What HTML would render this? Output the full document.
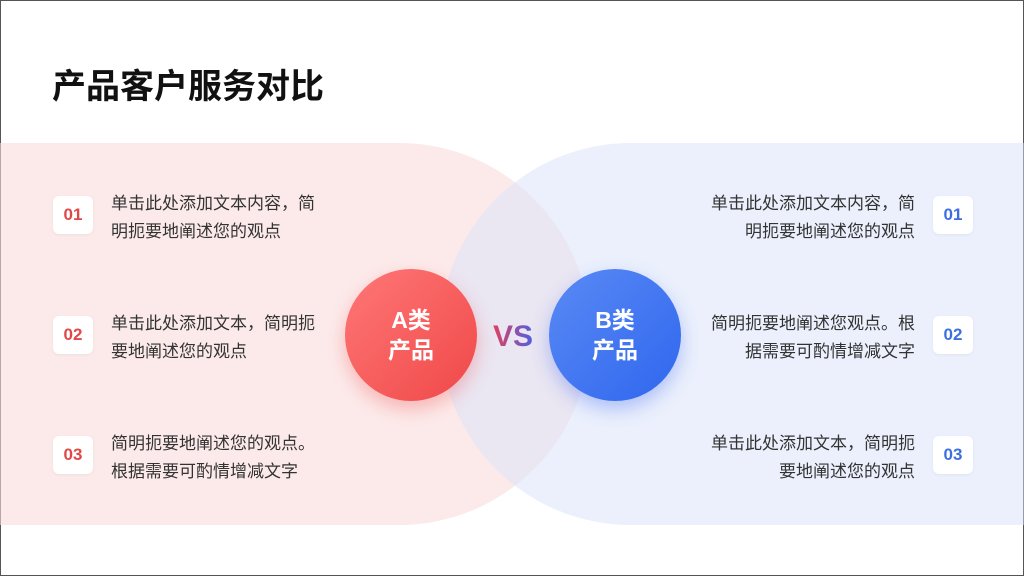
<!DOCTYPE html>
<html><head><meta charset="utf-8"><style>
body{margin:0;width:1024px;height:576px;overflow:hidden;background:#fff;font-family:"Liberation Sans","Noto Sans CJK SC",sans-serif;position:relative}
.abs{position:absolute}
.t{font-size:17px;line-height:28px;color:#333;white-space:nowrap}
.b{width:40px;height:38px;background:#fff;border-radius:6px;font-weight:bold;font-size:17px;text-align:center;line-height:38px;box-shadow:0 1px 3px rgba(0,0,0,.05)}
.r{color:#e04848}.bl{color:#3b6fe0}
.c{width:132px;height:132px;border-radius:50%;color:#fff;font-weight:bold;font-size:23px;line-height:30px;display:flex;align-items:center;justify-content:center;text-align:center}
</style></head><body>
<div class="abs" style="left:0;top:0;width:1022px;height:574px;border:1px solid #555"></div>
<div class="abs" style="left:52px;top:59px;font-size:34px;font-weight:bold;color:#111">产品客户服务对比</div>
<div class="abs" style="left:-200px;top:143px;width:790px;height:382px;border-radius:0 191px 191px 0;background:rgba(250,220,220,.6)"></div>
<div class="abs" style="left:440px;top:143px;width:800px;height:382px;border-radius:191px 0 0 191px;background:rgba(215,225,250,.5)"></div>
<div class="abs b r" style="left:53px;top:196px">01</div>
<div class="abs b r" style="left:53px;top:316px">02</div>
<div class="abs b r" style="left:53px;top:436px">03</div>
<div class="abs t" style="left:111px;top:190px">单击此处添加文本内容，简<br>明扼要地阐述您的观点</div>
<div class="abs t" style="left:111px;top:310px">单击此处添加文本，简明扼<br>要地阐述您的观点</div>
<div class="abs t" style="left:111px;top:430px">简明扼要地阐述您的观点。<br>根据需要可酌情增减文字</div>
<div class="abs b bl" style="left:933px;top:196px">01</div>
<div class="abs b bl" style="left:933px;top:316px">02</div>
<div class="abs b bl" style="left:933px;top:436px">03</div>
<div class="abs t" style="right:109px;top:190px;text-align:right">单击此处添加文本内容，简<br>明扼要地阐述您的观点</div>
<div class="abs t" style="right:109px;top:310px;text-align:right">简明扼要地阐述您观点。根<br>据需要可酌情增减文字</div>
<div class="abs t" style="right:109px;top:430px;text-align:right">单击此处添加文本，简明扼<br>要地阐述您的观点</div>
<div class="abs c" style="left:345px;top:269px;background:linear-gradient(135deg,#f77,#f04848);box-shadow:0 8px 18px rgba(240,80,80,.35)">A类<br>产品</div>
<div class="abs c" style="left:549px;top:269px;background:linear-gradient(135deg,#5a8af5,#2f66ee);box-shadow:0 8px 18px rgba(60,100,240,.35)">B类<br>产品</div>
<div class="abs" style="left:493px;top:320px;font-size:30px;font-weight:bold;background:linear-gradient(90deg,#e04060,#5060e0);-webkit-background-clip:text;color:transparent">VS</div>
</body></html>
